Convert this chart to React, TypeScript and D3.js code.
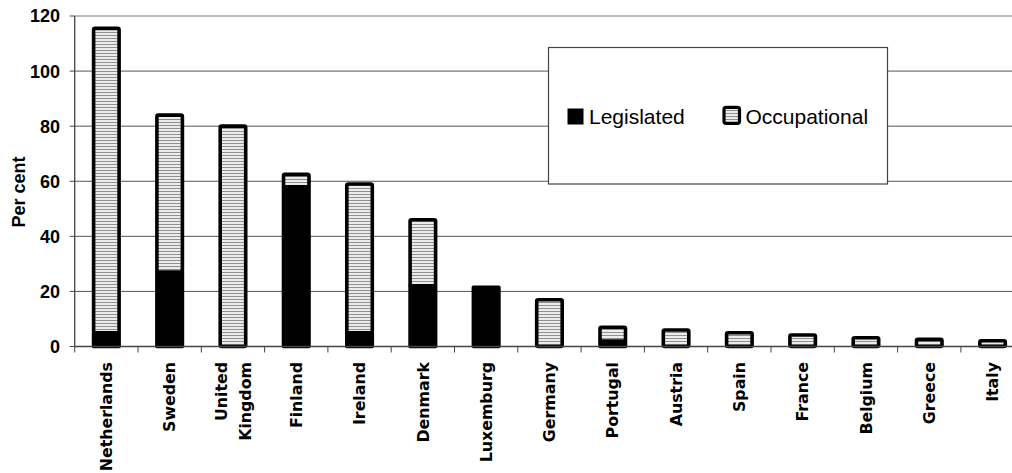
import React from "react";
import * as d3 from "d3";

const countries = ["Netherlands", "Sweden", "United Kingdom", "Finland", "Ireland", "Denmark", "Luxemburg", "Germany", "Portugal", "Austria", "Spain", "France", "Belgium", "Greece", "Italy"];
const legislated = [5, 27, 0, 58, 5, 22, 21.5, 0, 2, 0, 0, 0, 0, 0, 0];
const occupational = [110.5, 57, 80, 4.5, 54, 24, 0, 17, 5, 6, 5, 4.2, 3.2, 2.6, 2.1];
const yTicks = [0, 20, 40, 60, 80, 100, 120];
const seriesNames = ["Legislated", "Occupational"];

const W = 1012;
const H = 473;
const left = 74.7;
const step = 63.3;
const y0 = 346.5;
const yTop = 16;

export default function App() {
  const x = d3.scaleBand<string>().domain(countries).range([left, left + step * countries.length]).padding(0);
  const y = d3.scaleLinear().domain([0, 120]).range([y0, yTop]);
  const barW = 25.5;
  const sans = "'Liberation Sans', Arial, sans-serif";
  const labelFont = "'DejaVu Sans', Verdana, sans-serif";

  return (
    <svg width={W} height={H} style={{ position: "absolute", left: 0, top: 0, background: "#fff" }}>
      <defs>
        <pattern id="hatch" patternUnits="userSpaceOnUse" width={6} height={3}>
          <rect x={0} y={0} width={6} height={3} fill="#ececec" />
          <rect x={0} y={2} width={6} height={1} fill="#8f8f8f" />
        </pattern>
      </defs>
      {yTicks.filter((t) => t > 0).map((t) => (
        <line key={"g" + t} x1={left} x2={W} y1={y(t)} y2={y(t)} stroke={t === 120 ? "#777" : "#555"} strokeWidth={1} />
      ))}
      <line x1={left} x2={left} y1={yTop} y2={y0} stroke="#444" strokeWidth={1.3} />
      {yTicks.map((t) => (
        <g key={"yt" + t}>
          <line x1={left - 5} x2={left} y1={y(t)} y2={y(t)} stroke="#444" />
          <text x={60} y={y(t)} dy="0.36em" textAnchor="end" fontFamily={sans} fontWeight="bold" fontSize={18} fill="#000">{t}</text>
        </g>
      ))}
      <text transform={`translate(19,192) rotate(-90)`} textAnchor="middle" dy="0.35em" fontFamily={sans} fontWeight="bold" fontSize={18} fill="#000">Per cent</text>
      {countries.map((c, i) => {
        const cx = (x(c) as number) + x.bandwidth() / 2;
        const l = legislated[i];
        const o = occupational[i];
        return (
          <g key={c}>
            {l > 0 && (
              <rect x={cx - barW / 2} y={y(l)} width={barW} height={y0 - y(l)} fill="#000" stroke="#000" strokeWidth={3.6} strokeLinejoin="round" />
            )}
            {o > 0 && (
              <rect x={cx - barW / 2} y={y(l + o)} width={barW} height={y(l) - y(l + o)} fill="url(#hatch)" stroke="#000" strokeWidth={3.6} strokeLinejoin="round" rx={1.5} />
            )}
          </g>
        );
      })}
      <line x1={left} x2={W} y1={y0} y2={y0} stroke="#444" strokeWidth={1.3} />
      {countries.map((c, i) => (
        <line key={"xt" + i} x1={(x(c) as number)} x2={(x(c) as number)} y1={y0} y2={y0 + 6} stroke="#444" />
      ))}
      {countries.map((c) => {
        const cx = (x(c) as number) + x.bandwidth() / 2;
        const parts = c === "United Kingdom" ? ["United", "Kingdom"] : [c];
        return parts.map((p, j) => {
          const off = parts.length === 1 ? 0 : (j === 0 ? -11.5 : 12.5);
          return (
            <text key={c + j} transform={`translate(${cx + off},362) rotate(-90)`} textAnchor="end" dy="0.36em" fontFamily={labelFont} fontWeight="bold" fontSize={15.8} fill="#000">{p}</text>
          );
        });
      })}
      <rect x={548.5} y={47.5} width={339} height={136.5} fill="#fff" stroke="#444" strokeWidth={1.2} />
      <rect x={567.5} y={108.5} width={16} height={16} fill="#000" />
      <text x={589} y={123.5} fontFamily={sans} fontSize={21} fill="#000">{seriesNames[0]}</text>
      <rect x={724} y={107.3} width={15.5} height={16} rx={2} fill="url(#hatch)" stroke="#000" strokeWidth={3.2} strokeLinejoin="round" />
      <text x={745.5} y={123.5} fontFamily={sans} fontSize={21} fill="#000">{seriesNames[1]}</text>
    </svg>
  );
}
